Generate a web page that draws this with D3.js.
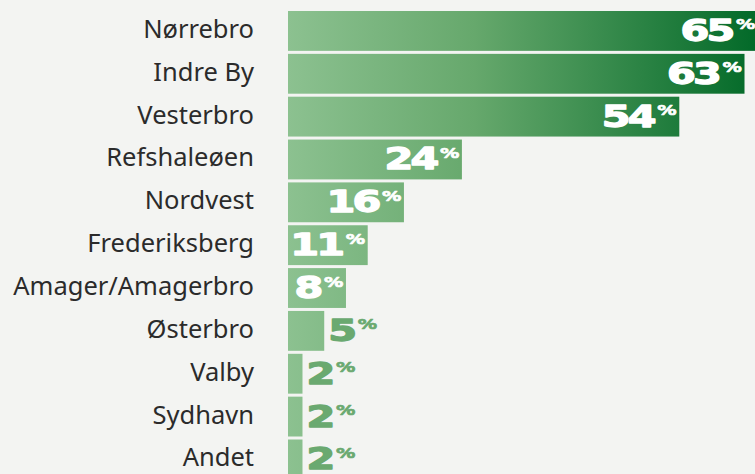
<!DOCTYPE html>
<html>
<head>
<meta charset="utf-8">
<script src="https://cdn.jsdelivr.net/npm/d3@7"></script>
<style>
  html, body { margin: 0; padding: 0; background: #f3f4f2; }
  svg { display: block; }
  .cat { font-family: "Noto Sans", sans-serif; font-size: 25.5px; fill: #2b2b2b; }
  .val { font-family: "DejaVu Sans", sans-serif; font-weight: bold; stroke-linejoin: round; }
</style>
</head>
<body>
<div id="chart"></div>
<script>
// data
const categories = ["Nørrebro", "Indre By", "Vesterbro", "Refshaleøen", "Nordvest",
  "Frederiksberg", "Amager/Amagerbro", "Østerbro", "Valby", "Sydhavn", "Andet"];
const shares = [65, 63, 54, 24, 16, 11, 8, 5, 2, 2, 2];

const width = 755, height = 474;
const margin = { top: 11, right: 0, bottom: 0, left: 288 };
const stretch = 1.38; // the value font is wider than anything installed

const svg = d3.select("#chart").append("svg")
  .attr("width", width)
  .attr("height", height);

const defs = svg.append("defs");
const grad = defs.append("linearGradient")
  .attr("id", "barGrad")
  .attr("gradientUnits", "userSpaceOnUse")
  .attr("x1", margin.left).attr("x2", width)
  .attr("y1", 0).attr("y2", 0);
grad.append("stop").attr("offset", "0%").attr("stop-color", "#8cc190");
grad.append("stop").attr("offset", "40%").attr("stop-color", "#66a86c");
grad.append("stop").attr("offset", "100%").attr("stop-color", "#036a29");

const x = d3.scaleLinear()
  .domain([0, 65])
  .range([margin.left, margin.left + 471]);

const y = d3.scaleBand()
  .domain(categories)
  .range([margin.top, margin.top + 11 * 42.85 - 3])
  .paddingInner(0.07)
  .paddingOuter(0);

const rows = categories.map((c, i) => ({ category: c, value: shares[i] }));

// category labels
svg.append("g").selectAll("text")
  .data(rows).enter()
  .append("text")
    .attr("class", "cat")
    .attr("x", 254)
    .attr("y", d => y(d.category) + y.bandwidth() / 2 + 7)
    .attr("text-anchor", "end")
    .text(d => d.category);

// bars
svg.append("g").selectAll("rect")
  .data(rows).enter()
  .append("rect")
    .attr("x", x(0))
    .attr("y", d => y(d.category))
    .attr("width", d => x(d.value) - x(0))
    .attr("height", y.bandwidth())
    .attr("fill", "url(#barGrad)");

// value labels: big number + small superscript %
const labelGroups = svg.append("g").selectAll("g")
  .data(rows).enter()
  .append("g");

const labels = labelGroups.append("text")
  .attr("class", "val");

labels.append("tspan")
  .attr("font-size", 30)
  .attr("letter-spacing", -2)
  .attr("stroke-width", 1.3)
  .text(d => d.value);
labels.append("tspan")
  .attr("font-size", 14)
  .attr("dx", 2.5)
  .attr("dy", -11.5)
  .attr("stroke-width", 0.6)
  .text("%");

labelGroups.each(function(d) {
  const g = d3.select(this);
  const t = g.select("text");
  const w = t.node().getComputedTextLength() * stretch;
  const barW = x(d.value) - x(0);
  const ly = y(d.category) + y.bandwidth() / 2 + 10;
  let lx, col;
  if (w + 6 <= barW) {
    lx = Math.min(x(d.value) - 6, width - 3) - w;
    col = "#ffffff";
  } else {
    lx = x(d.value) + 4;
    col = "#6aa970";
  }
  t.attr("fill", col).attr("stroke", col);
  g.attr("transform", `translate(${lx},${ly}) scale(${stretch},1)`);
});
</script>
</body>
</html>
